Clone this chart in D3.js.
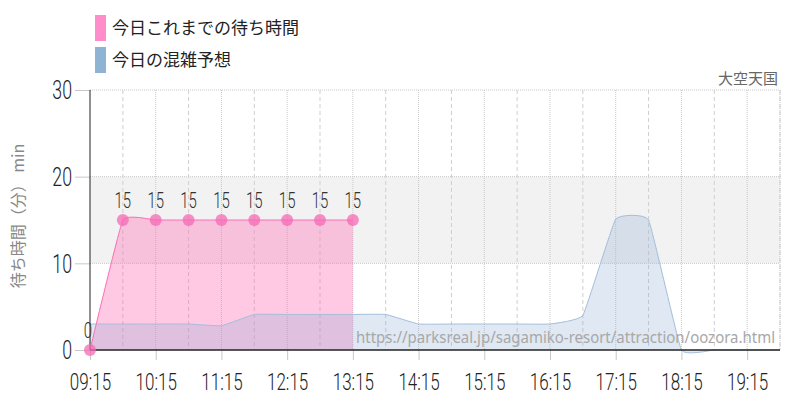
<!DOCTYPE html>
<html>
<head>
<meta charset="utf-8">
<script src="https://cdn.jsdelivr.net/npm/d3@7"></script>
<style>
  body { margin: 0; background: #fff; }
  svg { display: block; }
</style>
</head>
<body>
<div id="chart"></div>
<script>
// data
const waitTimes = ["09:15", "09:45", "10:15", "10:45", "11:15", "11:45", "12:15", "12:45", "13:15"];
const waitValues = [0, 15, 15, 15, 15, 15, 15, 15, 15];

const forecastTimes = ["09:15", "09:45", "10:15", "10:45", "11:15", "11:45", "12:15", "12:45", "13:15", "13:45", "14:15",
  "14:45", "15:15", "15:45", "16:15", "16:45", "17:15", "17:45", "18:15", "18:45", "19:15", "19:45"];
const forecastValues = [3, 3, 3, 3, 2.8, 4.1, 4.1, 4.1, 4.1, 4.1, 3.0,
  3.0, 3.0, 3.0, 3.0, 4.0, 15.1, 15.0, 0, 0, 0, 0];

const hourTicks = ["09:15", "10:15", "11:15", "12:15", "13:15", "14:15", "15:15", "16:15", "17:15", "18:15", "19:15"];
const halfTicks = ["09:45", "10:45", "11:45", "12:45", "13:45", "14:45", "15:45", "16:45", "17:45", "18:45", "19:45"];
const yTicks = [0, 10, 20, 30];

const legendLabels = ["今日これまでの待ち時間", "今日の混雑予想"];
const legendColors = ["#ff8ccb", "#8fb3d3"];

const width = 800, height = 400;
const toMin = t => { const p = t.split(":"); return +p[0] * 60 + +p[1]; };

const x = d3.scaleLinear().domain([toMin("09:15"), toMin("19:45")]).range([90, 780]);
const y = d3.scaleLinear().domain([0, 30]).range([350, 90]);

const numFont = "Roboto, sans-serif";
const jpFont = "'Noto Sans CJK JP', sans-serif";

const svg = d3.select("#chart").append("svg")
  .attr("width", width)
  .attr("height", height);

// band 10-20
svg.append("rect")
  .attr("x", x.range()[0])
  .attr("y", y(20))
  .attr("width", x.range()[1] - x.range()[0])
  .attr("height", y(10) - y(20))
  .attr("fill", "#f2f2f2");

// horizontal grid
svg.selectAll(".hgrid")
  .data(yTicks.filter(d => d > 0))
  .enter()
  .append("line")
  .attr("x1", 90).attr("x2", 780)
  .attr("y1", d => y(d)).attr("y2", d => y(d))
  .attr("stroke", "#c8c8c8")
  .attr("stroke-dasharray", "1,1");

// vertical grid, half hours dashed
svg.selectAll(".vgrid")
  .data(halfTicks)
  .enter()
  .append("line")
  .attr("x1", d => x(toMin(d))).attr("x2", d => x(toMin(d)))
  .attr("y1", y(30)).attr("y2", y(0))
  .attr("stroke", "#cfcfcf")
  .attr("stroke-dasharray", "4,3");

// hour lines dotted
svg.selectAll(".hourgrid")
  .data(hourTicks.slice(1))
  .enter()
  .append("line")
  .attr("x1", d => x(toMin(d))).attr("x2", d => x(toMin(d)))
  .attr("y1", y(30)).attr("y2", y(0))
  .attr("stroke", "#c8c8c8")
  .attr("stroke-dasharray", "1,1");

const curve = d3.curveCardinal.tension(0.7);

const waitData = waitTimes.map((t, i) => ({ t: toMin(t), v: waitValues[i] }));
const forecastData = forecastTimes.map((t, i) => ({ t: toMin(t), v: forecastValues[i] }));

const area = d3.area().x(d => x(d.t)).y0(y(0)).y1(d => y(d.v)).curve(curve);
const line = d3.line().x(d => x(d.t)).y(d => y(d.v)).curve(curve);

svg.append("path")
  .datum(waitData)
  .attr("d", area)
  .attr("fill", "rgba(255,105,180,0.36)");

svg.append("path")
  .datum(forecastData)
  .attr("d", area)
  .attr("fill", "rgba(135,170,210,0.27)");

svg.append("path")
  .datum(forecastData)
  .attr("d", line)
  .attr("fill", "none")
  .attr("stroke", "#a3bfdb")
  .attr("stroke-width", 1);

svg.append("path")
  .datum(waitData)
  .attr("d", line)
  .attr("fill", "none")
  .attr("stroke", "#ff6cb8")
  .attr("stroke-width", 1);

// url watermark
svg.append("text")
  .attr("x", 356)
  .attr("y", 343)
  .attr("textLength", 419)
  .attr("lengthAdjust", "spacingAndGlyphs")
  .style("font-family", "'Noto Sans', sans-serif")
  .style("font-size", "16px")
  .attr("fill", "#a8a8a8")
  .text("https://parksreal.jp/sagamiko-resort/attraction/oozora.html");

// axes
const xAxis = svg.append("g")
  .attr("transform", `translate(0,${y(0)})`)
  .call(d3.axisBottom(x).tickValues(hourTicks.map(toMin)).tickFormat((d, i) => hourTicks[i]).tickSize(10).tickPadding(8));
xAxis.select(".domain").remove();
xAxis.selectAll(".tick line").attr("stroke", "#c8c8c8");
xAxis.selectAll(".tick text")
  .attr("transform", "scale(0.74,1)")
  .attr("dy", "0.95em")
  .attr("fill", "#222")
  .style("font-family", numFont)
  .style("font-weight", 300)
  .style("font-size", "23px");

const yAxis = svg.append("g")
  .attr("transform", "translate(90,0)")
  .call(d3.axisLeft(y).tickValues(yTicks).tickSize(15).tickPadding(3));
yAxis.select(".domain").remove();
yAxis.selectAll(".tick line").attr("stroke", "#c8c8c8");
yAxis.selectAll(".tick text")
  .attr("transform", "scale(0.71,1)")
  .attr("x", -18 / 0.71)
  .attr("dy", "0.35em")
  .attr("fill", "#222")
  .style("font-family", numFont)
  .style("font-weight", 300)
  .style("font-size", "25px");

// axis lines
svg.append("line")
  .attr("x1", 90).attr("x2", 780)
  .attr("y1", y(0)).attr("y2", y(0))
  .attr("stroke", "#222").attr("stroke-width", 1.5);
svg.append("line")
  .attr("x1", 90).attr("x2", 90)
  .attr("y1", y(30)).attr("y2", y(0))
  .attr("stroke", "#222").attr("stroke-width", 1);

// right edge
svg.append("line")
  .attr("x1", 780).attr("x2", 780)
  .attr("y1", y(30)).attr("y2", y(0))
  .attr("stroke", "#c8c8c8")
  .attr("stroke-dasharray", "1,1");

// points + labels
svg.selectAll(".pt")
  .data(waitData)
  .enter()
  .append("circle")
  .attr("cx", d => x(d.t))
  .attr("cy", d => y(d.v))
  .attr("r", 6)
  .attr("fill", "rgba(245,105,180,0.75)");

svg.selectAll(".ptlabel")
  .data(waitData)
  .enter()
  .append("text")
  .attr("transform", d => `translate(${x(d.t) - (d.v === 0 ? 2 : 0)},${y(d.v) - 12}) scale(0.68,1)`)
  .attr("text-anchor", "middle")
  .attr("fill", "#333")
  .style("font-family", numFont)
  .style("font-weight", 300)
  .style("font-size", "22px")
  .text(d => d.v);

// y label
svg.append("text")
  .attr("transform", "translate(24,216) rotate(-90)")
  .attr("text-anchor", "middle")
  .attr("fill", "#888")
  .style("font-family", jpFont)
  .style("font-size", "16px")
  .text("待ち時間（分） min");

// attraction name
svg.append("text")
  .attr("x", 778)
  .attr("y", 84)
  .attr("text-anchor", "end")
  .attr("fill", "#666")
  .style("font-family", jpFont)
  .style("font-size", "15px")
  .text("大空天国");

// legend
const legend = svg.selectAll(".legend")
  .data(legendLabels)
  .enter()
  .append("g")
  .attr("transform", (d, i) => `translate(95,${15 + i * 32})`);

legend.append("rect")
  .attr("width", 11)
  .attr("height", 26)
  .attr("fill", (d, i) => legendColors[i]);

legend.append("text")
  .attr("x", 17)
  .attr("y", 13)
  .attr("dy", "0.35em")
  .attr("fill", "#222")
  .style("font-family", jpFont)
  .style("font-size", "17px")
  .text(d => d);
</script>
</body>
</html>
